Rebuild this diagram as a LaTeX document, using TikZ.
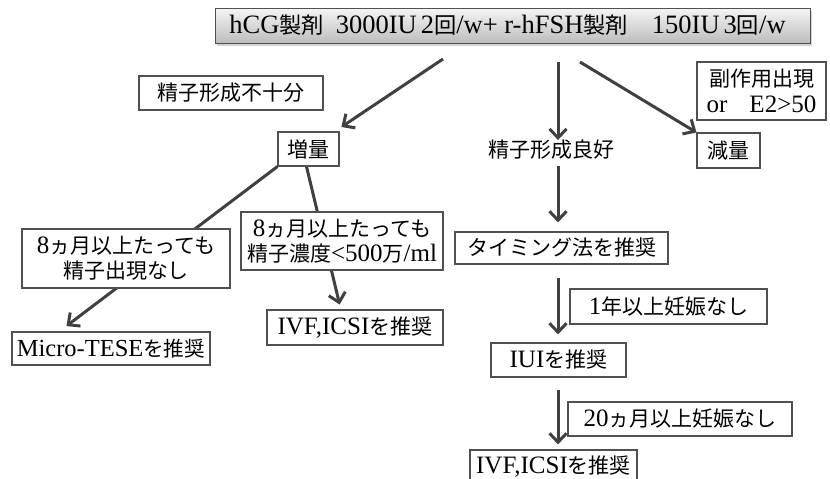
\documentclass[tikz,border=0pt]{standalone}
\usepackage{fontspec}
\setmainfont{Liberation Serif}
\newfontfamily\cjk{Noto Sans CJK JP}[Scale=0.84]
\newcommand\J[1]{{\cjk #1}}
\usetikzlibrary{arrows.meta,shadows,calc,backgrounds}
\definecolor{arrowgray}{HTML}{404040}
\definecolor{boxline}{HTML}{505050}
\begin{document}
\begin{tikzpicture}[x=1pt,y=-1pt,
  box/.style={draw=boxline, line width=1.1pt, fill=white, inner sep=0pt,
    font=\fontsize{25}{28}\selectfont, align=center},
  topbox/.style={draw=boxline, line width=1pt, top color=gray!8, bottom color=gray!52,
    inner sep=0pt, font=\fontsize{26.5}{29}\selectfont,
    drop shadow={shadow xshift=2pt, shadow yshift=-3pt, opacity=0.35}},
  plain/.style={inner sep=0pt, font=\fontsize{25}{28}\selectfont},
  arr/.style={draw=arrowgray, line width=3pt, -{Straight Barb[length=9pt,width=17pt]}},
]
\useasboundingbox (0,0) rectangle (830,479);

\node[topbox, minimum width=595pt, minimum height=35pt] (top) at (512.5,25.5)
  {hCG\J{製剤}\hspace{12pt}3000IU\hspace{4pt}2\J{回}/w+ r-hFSH\J{製剤}\hspace{24pt}150IU\hspace{4pt}3\J{回}/w\hspace*{10pt}};

\node[box, minimum width=184pt, minimum height=34pt] (fuju) at (231,93) {\J{精子形成不十分}};
\node[box, minimum width=61pt, minimum height=34pt] (zoryo) at (308.5,149) {\J{増量}};
\node[plain] (ryoko) at (551,150) {\J{精子形成良好}};
\node[box, minimum width=129pt, minimum height=58pt] (fuku) at (761.5,91)
  {\J{副作用出現}\\[-2pt]or\hspace{22pt}E2>50};
\node[box, minimum width=63pt, minimum height=35pt] (genryo) at (728.5,150.5) {\J{減量}};

\node[box, minimum width=213pt, minimum height=32pt] (timing) at (561.5,248) {\J{タイミング法を推奨}};
\node[box, minimum width=197pt, minimum height=35pt] (lab1) at (668.5,306.5) {1\J{年以上妊娠なし}};
\node[box, minimum width=135pt, minimum height=34pt] (iui) at (558.5,360) {IUI\J{を推奨}};
\node[box, minimum width=224pt, minimum height=34pt] (lab2) at (680,419) {20\J{ヵ月以上妊娠なし}};
\node[box, minimum width=167pt, minimum height=34pt] (ivfb) at (553.5,467) {IVF,ICSI\J{を推奨}};

\node[box, minimum width=208pt, minimum height=59pt] (labl) at (126,258.5)
  {8\J{ヵ月以上たっても}\\[-3pt]\J{精子出現なし}};
\node[box, minimum width=198pt, minimum height=33pt, font=\fontsize{24.5}{28}\selectfont] (micro) at (111,348.5) {Micro-TESE\J{を推奨}};
\node[box, minimum width=202pt, minimum height=58pt] (labm) at (342,241)
  {8\J{ヵ月以上たっても}\\[-3pt]\J{精子濃度}<500\J{万}/ml};
\node[box, minimum width=176pt, minimum height=35pt] (ivfa) at (355,327.5) {IVF,ICSI\J{を推奨}};

\coordinate (s1) at (443,59);
\coordinate (s2) at (558,62);
\coordinate (s3) at (580,62);
\coordinate (cx) at (558,0);

\begin{pgfonlayer}{background}
\draw[arr, shorten >=8pt] (s1) -- (zoryo);
\draw[arr] (s2) -- (ryoko.north -| cx);
\draw[arr] (s3) -- (genryo.north west);
\draw[arr, shorten <=6pt, shorten >=9pt] (ryoko.south -| cx) -- (timing.north -| cx);
\draw[arr, shorten <=13pt, shorten >=8pt] (timing.south -| cx) -- (iui.north -| cx);
\draw[arr, shorten <=12pt, shorten >=5pt] (iui.south -| cx) -- (ivfb.north -| cx);
\draw[arr, shorten >=9pt] (zoryo.south west) -- ($(micro.north west)!0.24!(micro.north east)$);
\draw[arr, shorten >=5pt] ([xshift=-2pt]zoryo.south) -- ($(ivfa.north west)!0.42!(ivfa.north east)$);
\end{pgfonlayer}
\end{tikzpicture}
\end{document}
